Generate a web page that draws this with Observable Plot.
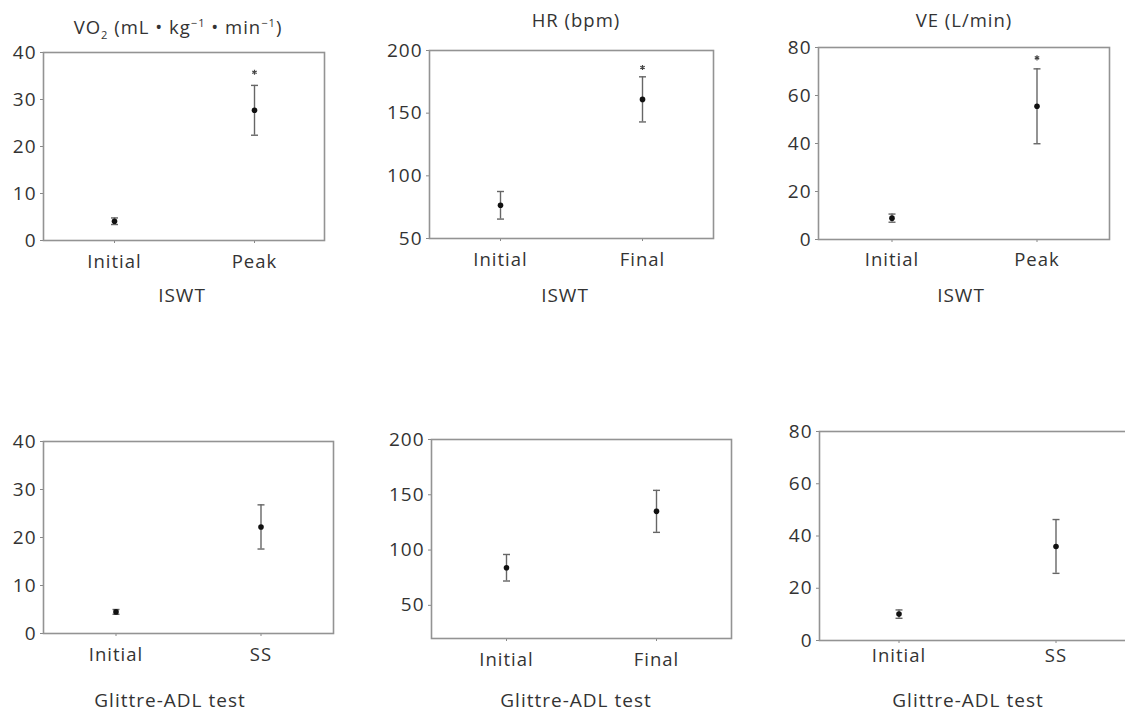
<!DOCTYPE html>
<html><head><meta charset="utf-8">
<script src="https://cdn.jsdelivr.net/npm/d3@7"></script>
<script src="https://cdn.jsdelivr.net/npm/@observablehq/plot@0.6"></script>
<style>
html,body{margin:0;padding:0;background:#fff;}
#root{position:relative;width:1125px;height:713px;overflow:hidden;font-family:"Open Sans",sans-serif;color:#333;background:#fff;}
.panel{position:absolute;}
.lbl{position:absolute;white-space:nowrap;transform:translateX(-50%);line-height:1;letter-spacing:1px;}
.lbl sub,.lbl sup{font-size:0.6em;line-height:0;}
</style></head><body><div id="root"></div>
<script>
// ---- data ----
const vo2Ticks = [0, 10, 20, 30, 40];
const hrTicks = [50, 100, 150, 200];
const veTicks = [0, 20, 40, 60, 80];

const iswtVo2Cats = ["Initial", "Peak"];
const iswtVo2Mean = [4.1, 27.7];
const iswtVo2Err = [0.7, 5.3];
const iswtVo2Star = [null, 35.8];

const iswtHrCats = ["Initial", "Final"];
const iswtHrMean = [76.5, 161];
const iswtHrErr = [11, 18];
const iswtHrStar = [null, 186.4];

const iswtVeCats = ["Initial", "Peak"];
const iswtVeMean = [8.9, 55.5];
const iswtVeErr = [1.7, 15.6];
const iswtVeStar = [null, 75.7];

const adlVo2Cats = ["Initial", "SS"];
const adlVo2Mean = [4.5, 22.2];
const adlVo2Err = [0.5, 4.6];

const adlHrCats = ["Initial", "Final"];
const adlHrMean = [84, 135];
const adlHrErr = [12, 19];

const adlVeCats = ["Initial", "SS"];
const adlVeMean = [10.1, 36];
const adlVeErr = [1.6, 10.3];

const panelTitles = ["VO<sub>2</sub> (mL • kg<sup>−1</sup> • min<sup>−1</sup>)", "HR (bpm)", "VE (L/min)"];
const testLabels = ["ISWT", "Glittre-ADL test"];

// ---- layout ----
const root = document.getElementById("root");
const capSymbol = {draw(ctx, size) { const r = Math.sqrt(size / Math.PI); ctx.moveTo(-r, 0); ctx.lineTo(r, 0); }};

function addLabel(html, cx, top, size) {
  const d = document.createElement("div");
  d.className = "lbl";
  d.innerHTML = html;
  d.style.left = cx + "px";
  d.style.top = top + "px";
  d.style.fontSize = size + "px";
  root.appendChild(d);
}

function panel(box, yDomain, ticks, cats, mean, err, star, xPad) {
  const rows = cats.map((c, i) => ({cat: c, mean: mean[i], lo: mean[i] - err[i], hi: mean[i] + err[i], star: star ? star[i] : null}));
  const mL = 44, mR = 4, mT = 10, mB = 44;
  const chart = Plot.plot({
    width: box.R - box.L + mL + mR,
    height: box.B - box.T + mT + mB,
    marginLeft: mL, marginRight: mR, marginTop: mT, marginBottom: mB,
    style: {fontFamily: "Open Sans", fontSize: "18px", color: "#333", background: "transparent", overflow: "visible", letterSpacing: "1px"},
    x: {type: "band", domain: cats, padding: 0, axis: null},
    y: {domain: yDomain, axis: null},
    marks: [
      Plot.axisY({ticks: ticks, tickSize: 3, tickPadding: 4, stroke: "#888", fill: "#333", fontSize: 19, label: null}),
      Plot.axisX({tickSize: 3, tickPadding: xPad, stroke: "#888", fill: "#333", fontSize: 18.5, label: null}),
      Plot.frame({stroke: "#939393", strokeWidth: 1.6}),
      Plot.ruleX(rows, {x: "cat", y1: "lo", y2: "hi", stroke: "#666", strokeWidth: 1.4}),
      Plot.dot(rows, {x: "cat", y: "hi", symbol: capSymbol, r: 3.5, stroke: "#666", strokeWidth: 1.4, fill: "none"}),
      Plot.dot(rows, {x: "cat", y: "lo", symbol: capSymbol, r: 3.5, stroke: "#666", strokeWidth: 1.4, fill: "none"}),
      Plot.dot(rows, {x: "cat", y: "mean", r: 2.8, fill: "#111", stroke: "none"}),
      Plot.dot(rows.filter(d => d.star != null), {x: "cat", y: "star", symbol: "asterisk", r: 2.4, stroke: "#444", strokeWidth: 1.2})
    ]
  });
  chart.classList.add("panel");
  chart.style.left = (box.L - mL) + "px";
  chart.style.top = (box.T - mT) + "px";
  root.appendChild(chart);
}

panel({L: 43, R: 324, T: 52, B: 240}, [0, 40], vo2Ticks, iswtVo2Cats, iswtVo2Mean, iswtVo2Err, iswtVo2Star, 11);
panel({L: 429, R: 713, T: 50, B: 238}, [50, 200], hrTicks, iswtHrCats, iswtHrMean, iswtHrErr, iswtHrStar, 11);
panel({L: 818, R: 1109, T: 47, B: 239}, [0, 80], veTicks, iswtVeCats, iswtVeMean, iswtVeErr, iswtVeStar, 10);
panel({L: 43, R: 333, T: 441, B: 633}, [0, 40], vo2Ticks, adlVo2Cats, adlVo2Mean, adlVo2Err, null, 11);
panel({L: 431, R: 731, T: 439, B: 638}, [20, 200], hrTicks, adlHrCats, adlHrMean, adlHrErr, null, 11);
panel({L: 819, R: 1134, T: 431, B: 640}, [0, 80], veTicks, adlVeCats, adlVeMean, adlVeErr, null, 5);

addLabel(panelTitles[0], 178, 18, 18.5);
addLabel(panelTitles[1], 576, 11, 18.5);
addLabel(panelTitles[2], 964, 11, 18.5);
addLabel(testLabels[0], 182, 286, 19);
addLabel(testLabels[0], 565, 286, 19);
addLabel(testLabels[0], 961, 286, 19);
addLabel(testLabels[1], 170, 691, 19);
addLabel(testLabels[1], 576, 691, 19);
addLabel(testLabels[1], 968, 691, 19);
</script></body></html>
